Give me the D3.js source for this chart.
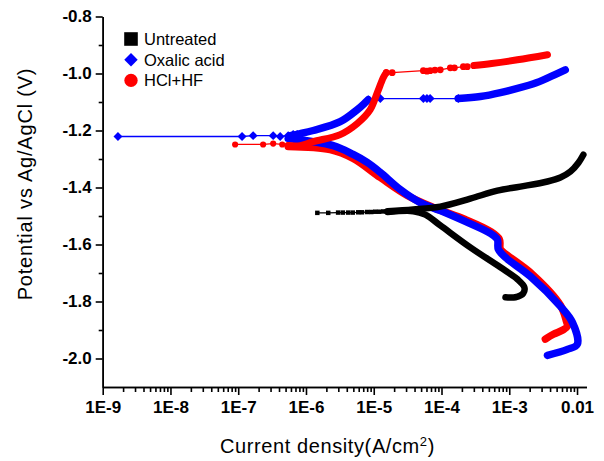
<!DOCTYPE html>
<html>
<head>
<meta charset="utf-8">
<script src="https://cdn.jsdelivr.net/npm/d3@7"></script>
<style>
body { margin: 0; background: #fff; }
svg { display: block; font-family: "Liberation Sans", Arial, sans-serif; }
</style>
</head>
<body>
<svg id="chart" width="604" height="461"></svg>
<script>
// axis ticks
var xTicks = [1e-9, 1e-8, 1e-7, 1e-6, 1e-5, 1e-4, 1e-3, 1e-2];
var xLabels = ["1E-9", "1E-8", "1E-7", "1E-6", "1E-5", "1E-4", "1E-3", "0.01"];
var yTicks = [-0.8, -1.0, -1.2, -1.4, -1.6, -1.8, -2.0];
var yLabels = ["-0.8", "-1.0", "-1.2", "-1.4", "-1.6", "-1.8", "-2.0"];
var seriesNames = ["Untreated", "Oxalic acid", "HCl+HF"];

// [current density A/cm2, potential V]
// Untreated
var untreatedMarks = [[1.47e-6,-1.489],[2.13e-6,-1.489],[2.98e-6,-1.488],[3.5e-6,-1.488],[4.2e-6,-1.488],[4.9e-6,-1.488],
  [5.9e-6,-1.487],[6.7e-6,-1.487],[8.0e-6,-1.486],[9.2e-6,-1.486],[1.05e-5,-1.485],[1.2e-5,-1.485],[1.38e-5,-1.484],[1.55e-5,-1.484]];
var untreatedAnodic = [[1.6e-5,-1.483],[3.83e-5,-1.477],[9.6e-5,-1.467],[2.66e-4,-1.439],[6.67e-4,-1.411],[1.46e-3,-1.397],
  [3.66e-3,-1.379],[5.69e-3,-1.365],[8.0e-3,-1.344],[1.05e-2,-1.313],[1.24e-2,-1.285]];
var untreatedCathodic = [[1.6e-5,-1.486],[3.83e-5,-1.483],[5.77e-5,-1.495],[9.6e-5,-1.533],[2.66e-4,-1.610],[7.4e-4,-1.680],
  [1.32e-3,-1.722],[1.67e-3,-1.750],[1.61e-3,-1.771],[1.23e-3,-1.785],[8.8e-4,-1.785]];

// Oxalic acid
var oxalicMarks = [[1.68e-9,-1.221],[1.14e-7,-1.221],[1.66e-7,-1.218],[3.28e-7,-1.218],[4.16e-7,-1.221],[5.46e-7,-1.218],
  [6.47e-7,-1.214],[7.41e-7,-1.214]];
var oxalicAnodic1 = [[5.85e-7,-1.218],[8.2e-7,-1.211],[1.28e-6,-1.200],[3.2e-6,-1.169],[5.7e-6,-1.127],[7.5e-6,-1.102],[8.3e-6,-1.092]];
var oxalicAnodicMarks = [[8.3e-6,-1.092],[1.25e-5,-1.088],[5.4e-5,-1.088],[6.1e-5,-1.088],[6.8e-5,-1.088],[1.77e-4,-1.088]];
var oxalicAnodic2 = [[1.77e-4,-1.088],[3.74e-4,-1.081],[7.4e-4,-1.067],[2.28e-3,-1.036],[4.06e-3,-1.011],[6.7e-3,-0.987]];
var oxalicCathodic = [[5.46e-7,-1.228],[2.52e-6,-1.253],[4.97e-6,-1.284],[8.0e-6,-1.312],[1.25e-5,-1.347],[2.46e-5,-1.407],
  [4.86e-5,-1.453],[9.6e-5,-1.481],[2.24e-4,-1.519],[5.26e-4,-1.561],[6.67e-4,-1.582],[6.9e-4,-1.617],[8.75e-4,-1.645],
  [2.05e-3,-1.712],[5.69e-3,-1.817],[8.55e-3,-1.873],[1.01e-2,-1.950],[7.2e-3,-1.968],[3.66e-3,-1.989]];

// HCl+HF
var hclMarks = [[9.0e-8,-1.249],[2.33e-7,-1.249],[3.28e-7,-1.246],[4.46e-7,-1.249],[5.46e-7,-1.252]];
var hclAnodic1 = [[5.46e-7,-1.253],[8.2e-7,-1.253],[1.28e-6,-1.239],[3.2e-6,-1.2145],[5.7e-6,-1.176],[8.87e-6,-1.127],
  [1.13e-5,-1.067],[1.38e-5,-1.015],[1.53e-5,-0.997]];
var hclAnodicMarks = [[1.53e-5,-0.997],[1.87e-5,-0.997],[5.4e-5,-0.990],[6.1e-5,-0.992],[6.8e-5,-0.990],[8.0e-5,-0.988],
  [9.6e-5,-0.987],[1.35e-4,-0.980],[1.55e-4,-0.980],[2.1e-4,-0.976],[2.4e-4,-0.976]];
var hclAnodic2 = [[3.0e-4,-0.972],[5.5e-4,-0.965],[1.32e-3,-0.952],[3.66e-3,-0.934]];
var hclCathodic = [[5.46e-7,-1.256],[2.28e-6,-1.267],[4.97e-6,-1.298],[1.25e-5,-1.365],[3.13e-5,-1.428],[7.57e-5,-1.470],
  [2.24e-4,-1.512],[5.26e-4,-1.554],[7.15e-4,-1.582],[7.4e-4,-1.617],[9.4e-4,-1.638],[2.2e-3,-1.705],[5.69e-3,-1.813],
  [6.98e-3,-1.869],[7.2e-3,-1.887],[6.08e-3,-1.901],[4.48e-3,-1.915],[3.41e-3,-1.932]];

var svg = d3.select("#chart");
var x = d3.scaleLog().domain([1e-9, 0.0138]).range([102.7, 586.5]);
var y = d3.scaleLinear().domain([-2.1, -0.8]).range([387, 16.5]);

var line = d3.line().x(function(d) { return x(d[0]); }).y(function(d) { return y(d[1]); });
var band = d3.line().curve(d3.curveCatmullRom.alpha(0.5))
  .x(function(d) { return x(d[0]); }).y(function(d) { return y(d[1]); });

// axes
var minorX = [];
for (var e = -9; e <= -2; e++) for (var m = 2; m <= 9; m++) { var v = m * Math.pow(10, e); if (v < 0.0138) minorX.push(v); }
var minorY = [-0.9, -1.1, -1.3, -1.5, -1.7, -1.9];

function styleAxis(g) {
  g.selectAll("path, line").attr("stroke", "#000").attr("stroke-width", 1.6);
  g.selectAll("text").attr("fill", "#000").attr("font-size", 17).attr("font-weight", "bold");
}
svg.append("g").attr("transform", "translate(0,387)")
  .call(d3.axisBottom(x).tickValues(minorX).tickFormat("").tickSize(5).tickSizeOuter(0)).call(styleAxis);
svg.append("g").attr("transform", "translate(0,387)")
  .call(d3.axisBottom(x).tickValues(xTicks).tickFormat(function(d, i) { return xLabels[i]; })
    .tickSize(8).tickPadding(6).tickSizeOuter(0)).call(styleAxis);
svg.append("g").attr("transform", "translate(102.7,0)")
  .call(d3.axisLeft(y).tickValues(minorY).tickFormat("").tickSize(4).tickSizeOuter(0)).call(styleAxis);
svg.append("g").attr("transform", "translate(102.7,0)")
  .call(d3.axisLeft(y).tickValues(yTicks).tickFormat(function(d, i) { return yLabels[i]; })
    .tickSize(7).tickPadding(4).tickSizeOuter(0)).call(styleAxis);

// titles
var xt = svg.append("text").attr("x", 220).attr("y", 453).attr("font-size", 20).attr("letter-spacing", 0.6)
  .text("Current density(A/cm");
xt.append("tspan").attr("font-size", 13).attr("dy", -7).text("2");
xt.append("tspan").attr("dy", 7).text(")");
svg.append("text").attr("transform", "translate(32,184) rotate(-90)").attr("text-anchor", "middle")
  .attr("font-size", 20).attr("letter-spacing", 0.8).text("Potential vs Ag/AgCl (V)");

// curves
var plot = svg.append("g");
function thick(data, color, w) {
  plot.append("path").attr("d", band(data)).attr("fill", "none").attr("stroke", color)
    .attr("stroke-width", w).attr("stroke-linejoin", "round").attr("stroke-linecap", "round");
}
function thin(data, color) {
  plot.append("path").attr("d", line(data)).attr("fill", "none").attr("stroke", color).attr("stroke-width", 1.3);
}
function marks(data, color, type, size, rot) {
  plot.selectAll(null).data(data).enter().append("path")
    .attr("d", d3.symbol().type(type).size(size))
    .attr("transform", function(d) { return "translate(" + x(d[0]) + "," + y(d[1]) + ") rotate(" + rot + ")"; })
    .attr("fill", color);
}

thick(hclCathodic, "#ff0000", 7.5);
thick(oxalicCathodic, "#0000ff", 7.5);
thin(hclMarks, "#ff0000");
marks(hclMarks, "#ff0000", d3.symbolCircle, 30, 0);
thin(oxalicMarks, "#0000ff");
marks(oxalicMarks, "#0000ff", d3.symbolSquare, 40, 45);
thick(oxalicAnodic1, "#0000ff", 7.5);
thin(oxalicAnodicMarks, "#0000ff");
marks(oxalicAnodicMarks, "#0000ff", d3.symbolSquare, 40, 45);
thick(oxalicAnodic2, "#0000ff", 7.5);
thick(hclAnodic1, "#ff0000", 7);
thin(hclAnodicMarks, "#ff0000");
marks(hclAnodicMarks, "#ff0000", d3.symbolCircle, 36, 0);
thick(hclAnodic2, "#ff0000", 7);
thin(untreatedMarks, "#000000");
marks(untreatedMarks, "#000000", d3.symbolSquare, 20, 0);
thick(untreatedCathodic, "#000000", 6.5);
thick(untreatedAnodic, "#000000", 6.5);

// legend
var legColors = ["#000000", "#0000ff", "#ff0000"];
var legShapes = [[d3.symbolSquare, 185, 0], [d3.symbolSquare, 90, 45], [d3.symbolCircle, 140, 0]];
var leg = svg.append("g");
seriesNames.forEach(function(name, i) {
  var cy = 39 + i * 20.7;
  leg.append("path").attr("d", d3.symbol().type(legShapes[i][0]).size(legShapes[i][1]))
    .attr("transform", "translate(131," + cy + ") rotate(" + legShapes[i][2] + ")").attr("fill", legColors[i]);
  leg.append("text").attr("x", 144).attr("y", cy + 6).attr("font-size", 16.5).attr("fill", "#000").text(name);
});
</script>
</body>
</html>
